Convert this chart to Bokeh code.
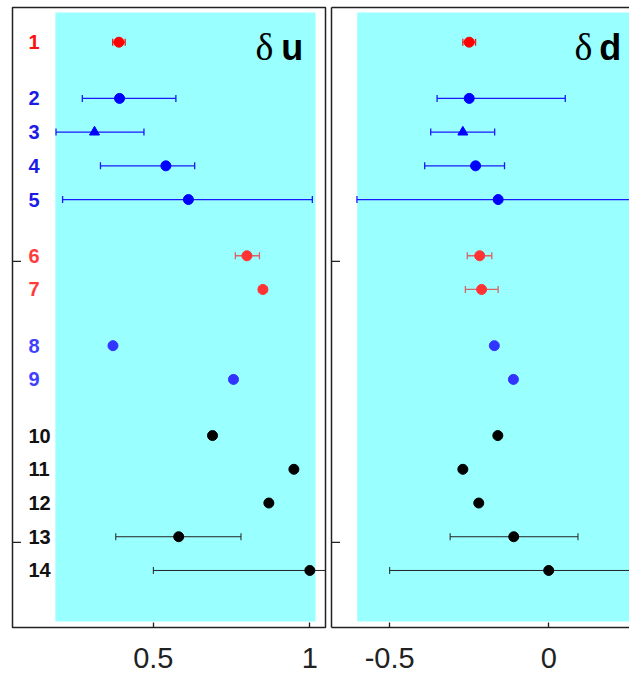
import numpy as np
from bokeh.plotting import figure
from bokeh.models import Range1d, FixedTicker, LinearAxis, ColumnDataSource
from bokeh.layouts import row
from bokeh.core.properties import value
from bokeh.embed import file_html
from bokeh.resources import INLINE

# ---------------- data ----------------
labels = ["1", "2", "3", "4", "5", "6", "7", "8", "9", "10", "11", "12", "13", "14"]
groups = [0, 1, 1, 1, 1, 2, 2, 3, 3, 4, 4, 4, 4, 4]
markers = ["circle", "circle", "triangle", "circle", "circle", "circle", "circle",
           "circle", "circle", "circle", "circle", "circle", "circle", "circle"]

du = [0.390, 0.392, 0.312, 0.540, 0.612, 0.799, 0.850, 0.371, 0.756, 0.689, 0.949, 0.869, 0.581, 1.000]
du_lo = [0.370, 0.273, 0.189, 0.331, 0.210, 0.762, 0.838, None, None, None, None, None, 0.380, 0.500]
du_hi = [0.410, 0.572, 0.470, 0.632, 1.008, 0.839, 0.862, None, None, None, None, None, 0.780, 1.500]

dd = [-0.250, -0.250, -0.270, -0.230, -0.159, -0.217, -0.211, -0.171, -0.111, -0.160, -0.270, -0.220, -0.110, 0.000]
dd_lo = [-0.270, -0.351, -0.371, -0.390, -0.603, -0.256, -0.262, None, None, None, None, None, -0.310, -0.500]
dd_hi = [-0.230, 0.052, -0.170, -0.139, 0.285, -0.179, -0.159, None, None, None, None, None, 0.092, 0.500]

x_ticks_u = [0.5, 1]
x_ticks_d = [-0.5, 0]
y_ticks = [10, 20]

# ---------------- styles ----------------
point_col = {0: "#ff0000", 1: "#0000ff", 2: "#ff3333", 3: "#3333ff", 4: "#000000"}
bar_col = {0: "#ff1a1a", 1: "#1a1aff", 2: "#d86464", 3: "#3333ff", 4: "#222222"}
label_col = {0: "#ff1010", 1: "#1c1ce6", 2: "#ff3c3c", 3: "#4040ff", 4: "#111111"}
bar_w = {0: 1.3, 1: 1.3, 2: 1.3, 3: 1.3, 4: 1.0}
CYAN = "#99ffff"
FRAME = "#222222"

# row layout (vertical positions from group structure)
ROW_STEP, GROUP_GAP, FIRST = 1.2, 2.0, 2.2
ys = []
yy = FIRST
for i, g in enumerate(groups):
    if i > 0:
        yy += GROUP_GAP if g != groups[i - 1] else ROW_STEP
    ys.append(round(yy, 3))

Y_BOTTOM, Y_TOP = 23.03, 0.965
CY_TOP, CY_BOT = 1.143, 22.82


def panel(vals, lo, hi, xr, cx, xticks, frame_w, mb_left, mb_right, outline):
    p = figure(frame_width=frame_w, frame_height=620,
               x_range=Range1d(*xr), y_range=Range1d(Y_BOTTOM, Y_TOP),
               output_backend="svg", toolbar_location=None,
               min_border_left=mb_left, min_border_right=mb_right,
               min_border_top=7, min_border_bottom=0)
    p.grid.visible = False
    p.background_fill_color = "white"
    p.border_fill_color = "white"
    if outline:
        p.outline_line_color = FRAME
        p.outline_line_width = 1.5
    else:
        p.outline_line_color = None

    p.quad(left=[cx[0]], right=[cx[1]], top=[CY_TOP], bottom=[CY_BOT],
           fill_color=CYAN, line_color=None)

    # inward y ticks: dash markers centred on the frame edge (outer half clipped)
    p.scatter(x=[xr[0]] * len(y_ticks), y=y_ticks, marker="dash", size=17,
              line_color=FRAME, line_width=1.3)

    # error bars
    idx = [i for i in range(len(vals)) if lo[i] is not None]
    src = ColumnDataSource(dict(
        lo=[lo[i] for i in idx], hi=[hi[i] for i in idx], y=[ys[i] for i in idx],
        c=[bar_col[groups[i]] for i in idx], w=[bar_w[groups[i]] for i in idx]))
    p.segment(x0="lo", x1="hi", y0="y", y1="y", line_color="c", line_width="w", source=src)
    p.scatter(x="lo", y="y", marker="dash", angle=np.pi / 2, size=7,
              line_color="c", line_width="w", source=src)
    p.scatter(x="hi", y="y", marker="dash", angle=np.pi / 2, size=7,
              line_color="c", line_width="w", source=src)

    # points
    psrc = ColumnDataSource(dict(
        x=vals, y=ys, m=markers, c=[point_col[g] for g in groups]))
    p.scatter(x="x", y="y", marker="m", size=10, fill_color="c", line_color="c", source=psrc)

    # axes
    p.yaxis.ticker = FixedTicker(ticks=[])
    p.yaxis.major_label_standoff = 0
    p.yaxis.major_tick_in = 0
    p.yaxis.major_tick_out = 0
    p.yaxis.minor_tick_line_color = None
    p.yaxis.axis_line_color = None if outline else FRAME
    p.yaxis.axis_line_width = 1.5
    if outline:
        p.yaxis.visible = False

    p.xaxis.ticker = FixedTicker(ticks=xticks)
    p.xaxis.major_label_overrides = {t: ("%g" % t) for t in xticks}
    p.xaxis.major_label_text_font = "Liberation Sans"
    p.xaxis.major_label_text_font_size = "29px"
    p.xaxis.major_label_text_color = "#222222"
    p.xaxis.major_label_standoff = 20
    p.xaxis.major_tick_in = 5
    p.xaxis.major_tick_out = 0
    p.xaxis.minor_tick_line_color = None
    p.xaxis.major_tick_line_color = FRAME
    p.xaxis.major_tick_line_width = 1.3
    p.xaxis.axis_line_color = None if outline else FRAME
    p.xaxis.axis_line_width = 1.5
    if not outline:
        top = LinearAxis(ticker=FixedTicker(ticks=[]),
                         major_label_standoff=0, major_tick_in=0, major_tick_out=0,
                         minor_tick_line_color=None, axis_line_color=FRAME, axis_line_width=1.5)
        p.add_layout(top, "above")
    return p


p1 = panel(du, du_lo, du_hi, (0.05, 1.05), (0.187, 1.018), x_ticks_u, 313, 12, 3, True)
p2 = panel(dd, dd_lo, dd_hi, (-0.683, 0.254), (-0.602, 0.40), x_ticks_d, 298, 3, 0, False)

# row labels (inside left frame)
p1.text(x=[0.101] * len(labels), y=ys, text=labels,
        text_color=[label_col[g] for g in groups],
        text_font=value("Liberation Sans"), text_font_style="bold",
        text_font_size="20px", text_baseline="middle", text_align="left")

# panel titles
p1.text(x=[0.8835], y=[2.378], text=["δ"], text_font=value("Liberation Serif"),
        text_font_size="38px", text_align="right", text_baseline="alphabetic", text_color="black")
p1.text(x=[0.9785], y=[2.378], text=["u"], text_font=value("Liberation Sans"), text_font_style="bold",
        text_font_size="36px", text_align="right", text_baseline="alphabetic", text_color="black")
p2.text(x=[0.137], y=[2.378], text=["δ"], text_font=value("Liberation Serif"),
        text_font_size="38px", text_align="right", text_baseline="alphabetic", text_color="black")
p2.text(x=[0.159], y=[2.378], text=["d"], text_font=value("Liberation Sans"), text_font_style="bold",
        text_font_size="36px", text_align="left", text_baseline="alphabetic", text_color="black")

layout = row(p1, p2)
open("out.html", "w").write(file_html(layout, INLINE))
